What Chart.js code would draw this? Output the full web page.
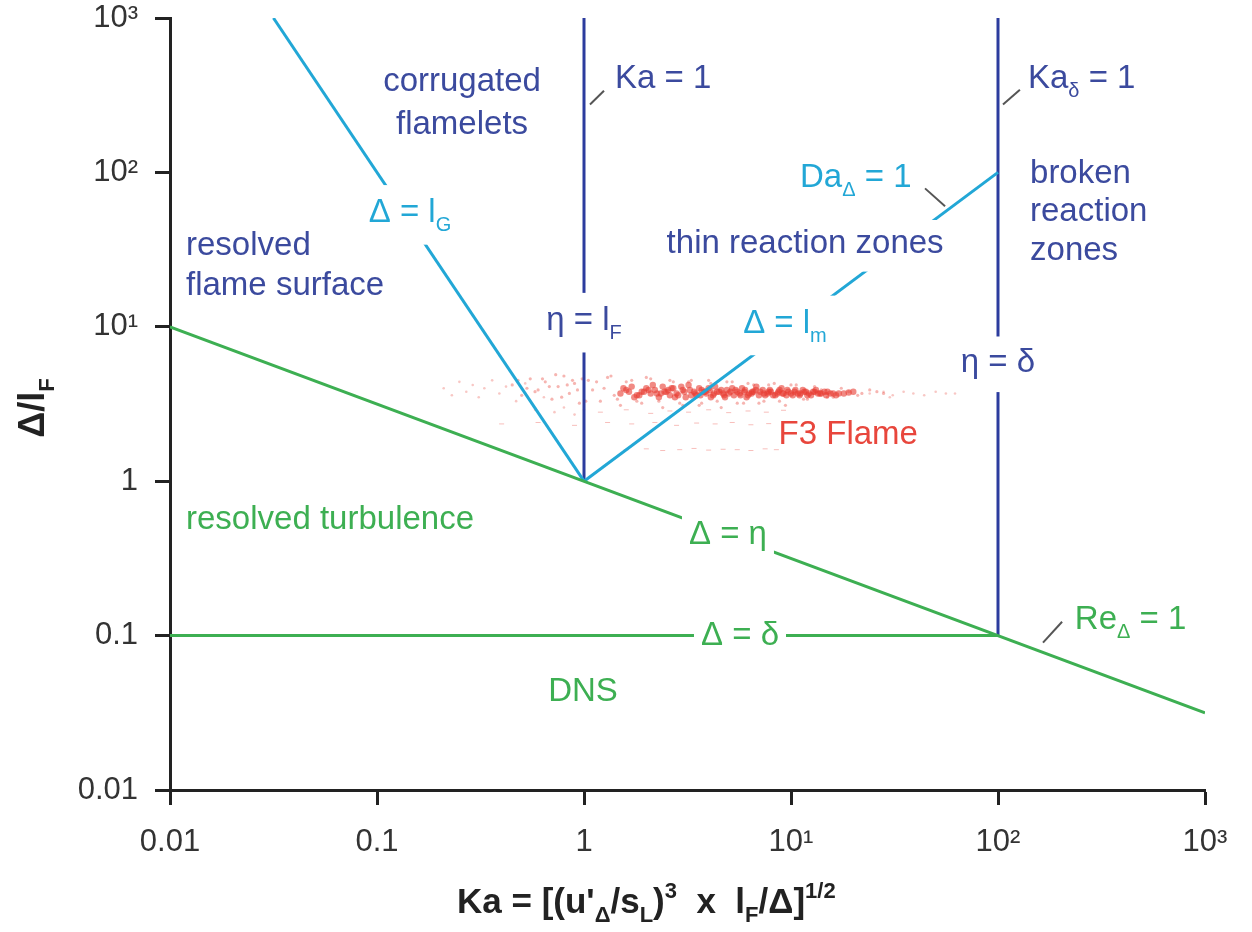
<!DOCTYPE html>
<html>
<head>
<meta charset="utf-8">
<script src="https://cdn.jsdelivr.net/npm/chart.js@4.4.1/dist/chart.umd.min.js"></script>
<style>
  html, body { margin: 0; padding: 0; background: #fff; }
  #wrap { width: 1252px; height: 932px; }
</style>
</head>
<body>
<div id="wrap"><canvas id="regime" width="1252" height="932"></canvas></div>
<script>
// axis ticks
const xTicks = [0.01, 0.1, 1, 10, 100, 1000];
const xTickLabels = ['0.01', '0.1', '1', '10¹', '10²', '10³'];
const yTicks = [0.01, 0.1, 1, 10, 100, 1000];
const yTickLabels = ['0.01', '0.1', '1', '10¹', '10²', '10³'];

// regime boundaries (Ka, Δ/lF)
const etaKa = [0.01, 1000];          // Δ = η
const etaDelta = [10, 0.0316];
const deltaKa = [0.01, 100];         // Δ = δ
const deltaDelta = [0.1, 0.1];
const lgKa = [0.0316, 1];            // Δ = lG
const lgDelta = [1000, 1];
const lmKa = [1, 100];               // Δ = lm
const lmDelta = [1, 100];
const ka1Ka = [1, 1];                // Ka = 1
const ka1Delta = [1, 1000];
const kadKa = [100, 100];            // Kaδ = 1
const kadDelta = [0.1, 1000];

// F3 flame samples
const flameCoreKa = [1.5,1.6,1.7,1.8,1.9,2.0,2.1,2.2,2.3,2.4,2.5,2.6,2.7,2.8,3.0,3.1,3.2,3.4,3.5,3.7,3.9,4.0,4.2,4.4,4.6,4.8,5.0,5.2,5.5,5.7,6.0,6.3,6.6,7.0,7.3,7.7,8.0,8.4,8.8,9.2,9.7,10.2,10.8,11.4,12.0,12.8,13.5,14.5,15.5,17.0,
  1.55,1.75,1.95,2.15,2.35,2.55,2.75,2.95,3.3,3.6,3.8,4.1,4.3,4.7,4.9,5.3,5.8,6.1,6.5,6.8,7.5,7.9,8.6,9.0,9.5,10.5,11.1,11.8,12.5,13.2,14.0,15.0,16.5,18.0,20.0];
const flameCoreDelta = [3.7,3.9,4.1,3.6,3.8,4.0,3.7,3.9,3.5,4.1,3.8,3.6,4.0,3.7,3.9,3.5,4.2,3.8,3.6,3.9,3.7,4.0,3.6,3.8,3.9,3.5,3.7,4.0,3.8,3.6,3.9,3.7,3.8,3.6,3.9,3.7,3.8,3.6,3.9,3.7,3.8,3.6,3.7,3.9,3.6,3.8,3.7,3.8,3.7,3.7,
  4.0,3.5,3.8,4.2,3.7,3.9,3.5,4.1,3.6,4.0,3.8,3.5,4.1,3.7,3.9,3.6,4.0,3.5,3.8,4.1,3.6,3.9,3.7,4.0,3.6,3.9,3.7,3.8,3.6,3.9,3.7,3.8,3.6,3.7,3.8];
const flameCore2Ka = [1.65,1.85,2.05,2.25,2.45,2.65,2.85,3.05,3.25,3.45,3.65,3.85,4.05,4.25,4.5,4.75,5.1,5.4,5.65,5.95,6.2,6.45,6.75,7.1,7.4,7.8,8.2,8.7,9.1,9.6,10.0,10.4,11.0,11.6,12.2,13.0,13.8,14.8,16.0,19.0];
const flameCore2Delta = [3.8,3.6,3.9,3.7,3.8,4.0,3.6,3.8,3.9,3.7,3.6,3.8,3.9,3.7,3.8,3.6,3.8,3.9,3.7,3.8,3.6,3.7,3.9,3.8,3.7,3.8,3.6,3.8,3.7,3.9,3.7,3.8,3.6,3.8,3.7,3.8,3.7,3.6,3.7,3.75];
const flameHaloKa = [0.45,0.5,0.55,0.6,0.65,0.7,0.75,0.8,0.85,0.9,0.95,1.05,1.1,1.2,1.3,1.4,1.5,1.7,1.9,2.1,2.4,2.7,3.0,3.3,3.7,4.1,4.6,5.2,5.9,6.6,7.4,8.3,9.4,10.6,12,14,16,19,22,26,
  0.48,0.53,0.58,0.63,0.68,0.73,0.78,0.83,0.88,0.93,0.98,1.02,1.15,1.25,1.35,1.45,1.6,1.8,2.0,2.3,2.6,2.9,3.2,3.6,4.0,4.4,4.9,5.5,6.2,7.0,7.8,8.8,10,11.5,13,15,17.5,21,24,28];
const flameHaloDelta = [4.2,3.6,4.6,3.9,4.4,3.4,4.1,4.8,3.7,4.3,3.2,4.5,3.9,3.3,4.7,3.6,3.1,4.5,3.2,4.6,3.0,4.4,3.1,4.5,3.2,4.3,3.0,4.4,3.2,4.2,3.3,4.3,3.1,4.2,3.4,3.9,3.5,3.8,3.7,3.8,
  4.5,4.0,3.8,4.6,4.1,4.9,3.5,4.2,4.5,3.9,4.6,3.3,4.4,4.0,4.8,3.4,4.4,3.3,4.7,3.3,4.5,3.2,4.4,3.1,4.5,3.3,4.4,3.2,4.3,3.2,4.2,3.3,4.2,3.4,4.1,3.5,4.0,3.6,3.9,3.7];
const flameSparseKa = [0.21,0.23,0.25,0.27,0.29,0.31,0.33,0.36,0.39,0.42,0.47,0.52,0.58,0.64,0.72,0.8,0.9,1.0,
  24,28,31,35,39,44,50,56,62,30];
const flameSparseDelta = [4.0,3.6,4.4,3.8,4.2,3.5,4.0,4.5,3.7,4.1,3.3,4.3,2.9,3.5,2.8,3.0,2.7,2.9,
  3.7,3.8,3.6,3.8,3.7,3.6,3.8,3.7,3.7,3.5];
const flameStreakKa = [0.4,0.6,0.9,1.3,1.7,2.2,2.8,3.5,4.3,5.2,6.4,7.8,9.5,
  1.6,2.0,2.4,2.9,3.4,4.0,4.7,5.5,6.4,7.5,8.5,
  1.2,1.6,2.1,2.6,3.2,4.0,5.0,6.2,7.6,9.2];
const flameStreakDelta = [2.35,2.4,2.3,2.4,2.35,2.4,2.3,2.38,2.35,2.4,2.32,2.36,2.4,
  1.6,1.62,1.58,1.6,1.63,1.59,1.61,1.6,1.58,1.62,1.6,
  2.8,2.9,2.75,2.85,2.8,2.9,2.78,2.85,2.8,2.88];

const FONT = '"Liberation Sans", Arial, Helvetica, sans-serif';
const DARKBLUE = '#3b4a9e';
const BLUE = '#2c3c9e';
const CYAN = '#22a7d6';
const GREEN = '#3daf52';
const RED = '#e8463c';
const LEADER = '#555555';
const LABEL_SIZE = 33;

function pts(xs, ys) {
  return xs.map((x, i) => ({ x: x, y: ys[i] }));
}

function lineSet(xs, ys, color) {
  return {
    data: pts(xs, ys),
    showLine: true,
    borderColor: color,
    borderWidth: 3,
    pointRadius: 0,
    fill: false,
    tension: 0,
    order: 1
  };
}

function cloudSet(xs, ys, color, r, style, bw) {
  return {
    data: pts(xs, ys),
    showLine: false,
    pointStyle: style || 'circle',
    pointRadius: r,
    pointBorderWidth: bw || 0,
    pointBackgroundColor: color,
    pointBorderColor: color,
    order: 2
  };
}

// annotations in data coordinates
const labels = [
  { x: 0.2575, y: 386, parts: [['corrugated']], align: 'center', color: DARKBLUE },
  { x: 0.2575, y: 204, parts: [['flamelets']], align: 'center', color: DARKBLUE },
  { x: 1.412, y: 404, parts: [['Ka = 1']], align: 'left', color: DARKBLUE },
  { x: 139.6, y: 404, parts: [['Ka'], ['δ', 'sub'], [' = 1']], align: 'left', color: DARKBLUE },
  { x: 0.1443, y: 54.4, parts: [['Δ = l'], ['G', 'sub']], align: 'center', color: CYAN, bg: true, pad: 10 },
  { x: 0.01195, y: 33.3, parts: [['resolved']], align: 'left', color: DARKBLUE },
  { x: 0.01195, y: 18.4, parts: [['flame surface']], align: 'left', color: DARKBLUE },
  { x: 1.0, y: 10.9, parts: [['η = l'], ['F', 'sub']], align: 'center', color: DARKBLUE, bg: true, pad: 10 },
  { x: 11.05, y: 91.5, parts: [['Da'], ['Δ', 'sub'], [' = 1']], align: 'left', color: CYAN },
  { x: 11.7, y: 34.3, parts: [['thin reaction zones']], align: 'center', color: DARKBLUE, bg: true, pad: 6 },
  { x: 142.8, y: 98.5, parts: [['broken']], align: 'left', color: DARKBLUE },
  { x: 142.8, y: 55.2, parts: [['reaction']], align: 'left', color: DARKBLUE },
  { x: 142.8, y: 30.9, parts: [['zones']], align: 'left', color: DARKBLUE },
  { x: 9.35, y: 10.46, parts: [['Δ = l'], ['m', 'sub']], align: 'center', color: CYAN, bg: true, pad: 10 },
  { x: 100, y: 5.86, parts: [['η = δ']], align: 'center', color: DARKBLUE, bg: true, pad: 8 },
  { x: 18.9, y: 1.98, parts: [['F3 Flame']], align: 'center', color: RED },
  { x: 0.01195, y: 0.56, parts: [['resolved turbulence']], align: 'left', color: GREEN },
  { x: 4.96, y: 0.448, parts: [['Δ = η']], align: 'center', color: GREEN, bg: true, pad: 7 },
  { x: 5.67, y: 0.1, parts: [['Δ = δ']], align: 'center', color: GREEN, bg: true, pad: 7 },
  { x: 235, y: 0.127, parts: [['Re'], ['Δ', 'sub'], [' = 1']], align: 'left', color: GREEN },
  { x: 0.989, y: 0.0435, parts: [['DNS']], align: 'center', color: GREEN }
];

// short leader strokes tying a label to its line
const leaders = [
  [[1.069, 275], [1.249, 338]],
  [[105.7, 275], [127.6, 343]],
  [[44.4, 78.8], [55.5, 60.4]],
  [[165, 0.0901], [204, 0.123]]
];

function drawRich(ctx, parts, x, y, align, size, weight, color, bg, pad) {
  const subSize = Math.round(size * 0.62);
  let w = 0;
  parts.forEach(p => {
    ctx.font = weight + ' ' + (p[1] ? subSize : size) + 'px ' + FONT;
    w += ctx.measureText(p[0]).width;
  });
  let x0 = align === 'center' ? x - w / 2 : (align === 'right' ? x - w : x);
  if (bg) {
    ctx.fillStyle = '#ffffff';
    ctx.fillRect(x0 - pad, y - size * 0.55 - pad, w + 2 * pad, size * 1.2 + 2 * pad);
  }
  ctx.fillStyle = color;
  ctx.textBaseline = 'middle';
  ctx.textAlign = 'left';
  parts.forEach(p => {
    ctx.font = weight + ' ' + (p[1] ? subSize : size) + 'px ' + FONT;
    let dy = 0;
    if (p[1] === 'sub') dy = size * 0.38;
    if (p[1] === 'sup') dy = -size * 0.32;
    ctx.fillText(p[0], x0, y + dy);
    x0 += ctx.measureText(p[0]).width;
  });
  return w;
}

const annotate = {
  id: 'annotate',
  afterDatasetsDraw(chart) {
    const ctx = chart.ctx;
    const xs = chart.scales.x, ys = chart.scales.y;
    ctx.save();
    ctx.strokeStyle = LEADER;
    ctx.lineWidth = 2;
    leaders.forEach(l => {
      ctx.beginPath();
      ctx.moveTo(xs.getPixelForValue(l[0][0]), ys.getPixelForValue(l[0][1]));
      ctx.lineTo(xs.getPixelForValue(l[1][0]), ys.getPixelForValue(l[1][1]));
      ctx.stroke();
    });
    labels.forEach(l => {
      drawRich(ctx, l.parts, xs.getPixelForValue(l.x), ys.getPixelForValue(l.y),
        l.align, LABEL_SIZE, 'normal', l.color, l.bg, l.pad || 0);
    });
    ctx.restore();
  },
  afterDraw(chart) {
    const ctx = chart.ctx;
    ctx.save();
    // x title
    const xParts = [['Ka = [(u\''], ['Δ', 'sub'], ['/s'], ['L', 'sub'], [')'], ['3', 'sup'], ['  x  l'], ['F', 'sub'], ['/Δ]'], ['1/2', 'sup']];
    drawRich(ctx, xParts, 457, 903, 'left', 35, 'bold', '#222222', false, 0);
    // y title
    ctx.translate(34, 408);
    ctx.rotate(-Math.PI / 2);
    drawRich(ctx, [['Δ/l'], ['F', 'sub']], 0, 0, 'center', 36, 'bold', '#222222', false, 0);
    ctx.restore();
  }
};

function logAxis(ticks, tickLabels, isX) {
  return {
    type: 'logarithmic',
    min: 0.01,
    max: 1000,
    position: isX ? 'bottom' : 'left',
    afterBuildTicks: s => { s.ticks = ticks.map(v => ({ value: v, major: true })); },
    afterFit: s => {
      if (isX) { s.height = 142; s.paddingLeft = 0; s.paddingRight = 0; }
      else { s.width = 170; s.paddingTop = 0; s.paddingBottom = 0; }
    },
    ticks: {
      autoSkip: false,
      maxRotation: 0,
      padding: isX ? 19 : 17,
      color: '#333333',
      font: { family: FONT, size: 31 },
      callback: v => tickLabels[ticks.indexOf(v)]
    },
    grid: {
      drawOnChartArea: false,
      drawTicks: true,
      tickLength: 15,
      tickWidth: 3,
      tickColor: '#222222'
    },
    border: { display: true, width: 3, color: '#222222' }
  };
}

new Chart(document.getElementById('regime'), {
  type: 'scatter',
  data: {
    datasets: [
      lineSet(etaKa, etaDelta, GREEN),
      lineSet(deltaKa, deltaDelta, GREEN),
      lineSet(lgKa, lgDelta, CYAN),
      lineSet(lmKa, lmDelta, CYAN),
      lineSet(ka1Ka, ka1Delta, BLUE),
      lineSet(kadKa, kadDelta, BLUE),
      cloudSet(flameStreakKa, flameStreakDelta, 'rgba(232,70,60,0.35)', 2.5, 'line', 1),
      cloudSet(flameSparseKa, flameSparseDelta, 'rgba(232,70,60,0.3)', 1.3),
      cloudSet(flameHaloKa, flameHaloDelta, 'rgba(232,70,60,0.4)', 1.6),
      cloudSet(flameCoreKa, flameCoreDelta, 'rgba(232,60,50,0.6)', 3.2),
      cloudSet(flameCore2Ka, flameCore2Delta, 'rgba(232,60,50,0.6)', 3.2)
    ]
  },
  options: {
    responsive: false,
    animation: false,
    layout: { padding: { left: 0, right: 47, top: 18, bottom: 0 } },
    plugins: { legend: { display: false }, tooltip: { enabled: false } },
    scales: {
      x: logAxis(xTicks, xTickLabels, true),
      y: logAxis(yTicks, yTickLabels, false)
    }
  },
  plugins: [annotate]
});
</script>
</body>
</html>
